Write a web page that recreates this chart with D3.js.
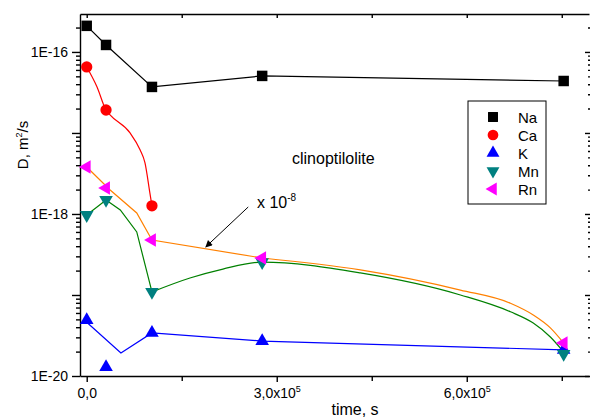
<!doctype html>
<html lang="en">
<head>
<meta charset="UTF-8">
<title>clinoptilolite</title>
<style>
body { margin: 0; background: #fff; }
svg { display: block; font-family: "Liberation Sans", Arial, sans-serif; }
.axis path, .axis line { stroke: #000; stroke-width: 1.4px; fill: none; }
.axis text { font-size: 14px; fill: #000; font-family: "Liberation Sans", Arial, sans-serif; }
.fit { fill: none; stroke-width: 1.2px; }
</style>
</head>
<body>
<script src="https://cdn.jsdelivr.net/npm/d3@7"></script>
<script>
// measured points (time in s, D in m2/s)
var times = [0, 3.05e4, 1.03e5, 2.77e5, 7.53e5];
var naD = [2.1e-16, 1.22e-16, 3.7e-17, 5.06e-17, 4.38e-17];
var caD = [6.53e-17, 1.92e-17, 1.26e-18];
var kD  = [4.91e-20, 1.29e-20, 3.4e-20, 2.7e-20, 2.1e-20];
var mnD = [9.7e-19, 1.49e-18, 1.09e-19, 2.55e-19, 1.87e-20];
var rnD = [3.8e-18, 2.09e-18, 4.77e-19, 2.86e-19, 2.55e-20];

// fitted lines
var caLineT = [0, 1.63e4, 3.05e4, 3.68e4, 6.84e4, 8.42e4, 9.2e4, 9.97e4, 1.03e5];
var caLineD = [6.53e-17, 3.7e-17, 1.92e-17, 1.67e-17, 1.0e-17, 6.2e-18, 4.27e-18, 1.82e-18, 1.26e-18];
var kLineT = [0, 5.4e4, 1.03e5, 2.77e5, 7.53e5];
var kLineD = [4.6e-20, 1.92e-20, 3.4e-20, 2.7e-20, 2.1e-20];
var mnLineT = [0, 3.05e4, 5.3e4, 7.9e4, 1.03e5];
var mnLineD = [9.7e-19, 1.49e-18, 1.12e-18, 6.0e-19, 1.09e-19];
var mnTailT = [1.03e5, 1.63e5, 2.15e5, 2.77e5, 4.32e5, 5.9e5, 6.69e5, 7.05e5, 7.32e5, 7.53e5];
var mnTailD = [1.09e-19, 1.62e-19, 2.09e-19, 2.55e-19, 1.87e-19, 1.0e-19, 6.2e-20, 4.5e-20, 3.03e-20, 1.98e-20];
var rnLineT = [0, 3.7e4, 7.9e4, 1.03e5, 2.77e5];
var rnLineD = [3.8e-18, 1.98e-18, 1.03e-18, 4.77e-19, 2.86e-19];
var rnTailT = [2.77e5, 4.32e5, 5.9e5, 6.69e5, 7.05e5, 7.32e5, 7.53e5];
var rnTailD = [2.86e-19, 2.04e-19, 1.15e-19, 7.9e-20, 5.66e-20, 3.92e-20, 2.55e-20];

var xMajor = [0, 3e5, 6e5];
var xMinor = [1.5e5, 4.5e5, 7.5e5];
var yLabeled = [1e-20, 1e-18, 1e-16];

var width = 590, height = 419;

var svg = d3.select("body").append("svg")
	.attr("width", width)
	.attr("height", height);

svg.append("rect").attr("width", width).attr("height", height).attr("fill", "#fff");

var x = d3.scaleLinear().domain([-1.06e4, 7.93e5]).range([80, 589]);
var y = d3.scaleLog().domain([1e-20, 2.94e-16]).range([376, 14]);

var decades = [], minors = [];
for (var e = -20; e <= -16; e++) {
	decades.push(Math.pow(10, e));
	for (var m = 2; m <= 9; m++) {
		var v = m * Math.pow(10, e);
		if (v < y.domain()[1]) minors.push(v);
	}
}

function fmtY(d) {
	return yLabeled.indexOf(d) >= 0 ? "1E" + Math.round(Math.log10(d)) : "";
}

// left axis
svg.append("g").attr("class", "axis").attr("transform", "translate(80,0)")
	.call(d3.axisLeft(y).tickValues(minors).tickSize(4).tickFormat(""))
	.select(".domain").remove();
svg.append("g").attr("class", "axis").attr("transform", "translate(80,0)")
	.call(d3.axisLeft(y).tickValues(decades).tickSize(8).tickPadding(4).tickSizeOuter(0).tickFormat(fmtY));

// right axis (its line falls just outside the picture)
svg.append("g").attr("class", "axis").attr("transform", "translate(591,0)")
	.call(d3.axisLeft(y).tickValues(minors).tickSize(3).tickFormat(""))
	.select(".domain").remove();
svg.append("g").attr("class", "axis").attr("transform", "translate(591,0)")
	.call(d3.axisLeft(y).tickValues(decades).tickSize(6).tickSizeOuter(0).tickFormat(""));

// bottom axis
svg.append("g").attr("class", "axis").attr("transform", "translate(0,376)")
	.call(d3.axisBottom(x).tickValues(xMinor).tickSize(5).tickFormat(""))
	.select(".domain").remove();
var xb = svg.append("g").attr("class", "axis").attr("transform", "translate(0,376)")
	.call(d3.axisBottom(x).tickValues(xMajor).tickSize(6).tickPadding(6).tickSizeOuter(0));
xb.selectAll(".tick text").each(function(d) {
	var t = d3.select(this);
	t.text(null);
	if (d === 0) {
		t.text("0,0");
	} else {
		t.append("tspan").text((d / 1e5).toFixed(1).replace(".", ",") + "x10");
		t.append("tspan").attr("dy", -6).attr("font-size", 9).text("5");
	}
});

// top axis
svg.append("g").attr("class", "axis").attr("transform", "translate(0,14)")
	.call(d3.axisTop(x).tickValues(xMajor.concat(xMinor)).tickSize(-4).tickSizeOuter(0).tickFormat(""));

// fit lines
var line = d3.line().x(function(d){ return x(d[0]); }).y(function(d){ return y(d[1]); });
var smooth = d3.line().x(function(d){ return x(d[0]); }).y(function(d){ return y(d[1]); }).curve(d3.curveMonotoneX);

function pairs(t, v) { return t.map(function(tt, i){ return [tt, v[i]]; }); }

svg.append("path").attr("class", "fit").attr("stroke", "#000").attr("d", line(pairs(times, naD)));
svg.append("path").attr("class", "fit").attr("stroke", "#ff0000").attr("d", smooth(pairs(caLineT, caLineD)));
svg.append("path").attr("class", "fit").attr("stroke", "#0000ff").attr("d", line(pairs(kLineT, kLineD)));
svg.append("path").attr("class", "fit").attr("stroke", "#008000").attr("d", line(pairs(mnLineT, mnLineD)));
svg.append("path").attr("class", "fit").attr("stroke", "#008000").attr("d", smooth(pairs(mnTailT, mnTailD)));
svg.append("path").attr("class", "fit").attr("stroke", "#ff8000").attr("d", line(pairs(rnLineT, rnLineD)));
svg.append("path").attr("class", "fit").attr("stroke", "#ff8000").attr("d", smooth(pairs(rnTailT, rnTailD)));

// markers
var series = [
	{ name: "Na", values: naD, symbol: d3.symbolSquare, size: 110, rot: 0, color: "#000000" },
	{ name: "Ca", values: caD, symbol: d3.symbolCircle, size: 100, rot: 0, color: "#ff0000" },
	{ name: "K",  values: kD,  symbol: d3.symbolTriangle, size: 80, rot: 0, color: "#0000ff" },
	{ name: "Mn", values: mnD, symbol: d3.symbolTriangle, size: 80, rot: 180, color: "#008080" },
	{ name: "Rn", values: rnD, symbol: d3.symbolTriangle, size: 80, rot: -90, color: "#ff00ff" }
];

series.forEach(function(s) {
	svg.append("g").selectAll("path")
		.data(s.values)
		.enter()
		.append("path")
		.attr("d", d3.symbol().type(s.symbol).size(s.size))
		.attr("transform", function(d, i){ return "translate(" + x(times[i]) + "," + y(d) + ") rotate(" + s.rot + ")"; })
		.attr("fill", s.color);
});

// legend
var lg = svg.append("g").attr("transform", "translate(468,101)");
lg.append("rect").attr("width", 78).attr("height", 103).attr("fill", "#fff").attr("stroke", "#000").attr("stroke-width", 1);
var item = lg.selectAll("g.item").data(series).enter().append("g")
	.attr("transform", function(d, i){ return "translate(0," + (16 + i * 18) + ")"; });
item.append("path")
	.attr("d", function(d){ return d3.symbol().type(d.symbol).size(d.size * 0.9)(); })
	.attr("transform", function(d){ return "translate(25,0) rotate(" + d.rot + ")"; })
	.attr("fill", function(d){ return d.color; });
item.append("text").attr("x", 50).attr("y", 6).attr("font-size", 15).text(function(d){ return d.name; });

// annotations
svg.append("text").attr("x", 292).attr("y", 164).attr("font-size", 16).text("clinoptilolite");

var note = svg.append("text").attr("x", 257).attr("y", 208).attr("font-size", 16);
note.append("tspan").text("x 10");
note.append("tspan").attr("dy", -7).attr("font-size", 10).text("-8");

svg.append("defs").append("marker")
	.attr("id", "arr").attr("viewBox", "0 0 10 10").attr("refX", 9).attr("refY", 5)
	.attr("markerWidth", 9).attr("markerHeight", 7).attr("orient", "auto").attr("markerUnits", "userSpaceOnUse")
	.append("path").attr("d", "M0,0L10,5L0,10Z").attr("fill", "#000");
svg.append("line")
	.attr("x1", x(2.55e5)).attr("y1", y(1.22e-18))
	.attr("x2", x(1.88e5)).attr("y2", y(3.92e-19))
	.attr("stroke", "#000").attr("stroke-width", 1)
	.attr("marker-end", "url(#arr)");

// axis titles
svg.append("text").attr("x", 355).attr("y", 415).attr("text-anchor", "middle").attr("font-size", 16).text("time, s");
var yt = svg.append("text").attr("transform", "translate(28,145) rotate(-90)").attr("text-anchor", "middle").attr("font-size", 15);
yt.append("tspan").text("D, m");
yt.append("tspan").attr("dy", -6).attr("font-size", 9).text("2");
yt.append("tspan").attr("dy", 6).text("/s");
</script>
</body>
</html>
